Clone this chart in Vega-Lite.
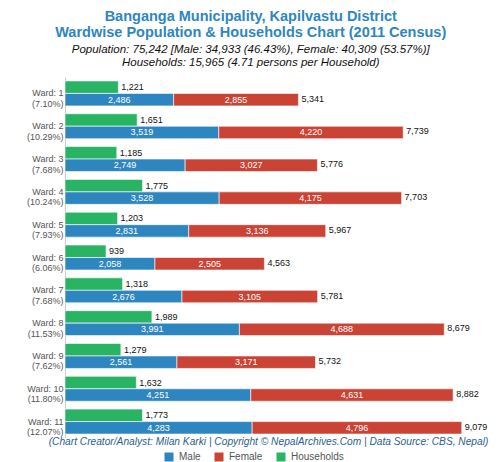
{
  "$schema": "https://vega.github.io/schema/vega-lite/v6.json",
  "width": 430,
  "height": 361,
  "autosize": {"type": "pad"},
  "padding": {"left": 26, "top": 9, "right": 5, "bottom": 0},
  "background": "white",
  "config": {"font": "Liberation Sans", "view": {"stroke": null}},
  "title": {
    "text": ["Banganga Municipality, Kapilvastu District", "Wardwise Population & Households Chart (2011 Census)"],
    "subtitle": ["Population: 75,242 [Male: 34,933 (46.43%), Female: 40,309 (53.57%)]", "Households: 15,965 (4.71 persons per Household)"],
    "anchor": "middle",
    "frame": "bounds",
    "dx": -10,
    "fontSize": 14.5,
    "fontWeight": "bold",
    "color": "#2e86c1",
    "lineHeight": 16,
    "subtitleFontSize": 11.5,
    "subtitleFontStyle": "italic",
    "subtitleColor": "#111111",
    "subtitleLineHeight": 13,
    "subtitlePadding": 3,
    "offset": 8
  },
  "data": {
    "values": [
      {"ward": "Ward: 1\n(7.10%)", "row": "Households", "series": "Households", "value": 1221},
      {"ward": "Ward: 1\n(7.10%)", "row": "Population", "series": "Male", "value": 2486},
      {"ward": "Ward: 1\n(7.10%)", "row": "Population", "series": "Female", "value": 2855},
      {"ward": "Ward: 2\n(10.29%)", "row": "Households", "series": "Households", "value": 1651},
      {"ward": "Ward: 2\n(10.29%)", "row": "Population", "series": "Male", "value": 3519},
      {"ward": "Ward: 2\n(10.29%)", "row": "Population", "series": "Female", "value": 4220},
      {"ward": "Ward: 3\n(7.68%)", "row": "Households", "series": "Households", "value": 1185},
      {"ward": "Ward: 3\n(7.68%)", "row": "Population", "series": "Male", "value": 2749},
      {"ward": "Ward: 3\n(7.68%)", "row": "Population", "series": "Female", "value": 3027},
      {"ward": "Ward: 4\n(10.24%)", "row": "Households", "series": "Households", "value": 1775},
      {"ward": "Ward: 4\n(10.24%)", "row": "Population", "series": "Male", "value": 3528},
      {"ward": "Ward: 4\n(10.24%)", "row": "Population", "series": "Female", "value": 4175},
      {"ward": "Ward: 5\n(7.93%)", "row": "Households", "series": "Households", "value": 1203},
      {"ward": "Ward: 5\n(7.93%)", "row": "Population", "series": "Male", "value": 2831},
      {"ward": "Ward: 5\n(7.93%)", "row": "Population", "series": "Female", "value": 3136},
      {"ward": "Ward: 6\n(6.06%)", "row": "Households", "series": "Households", "value": 939},
      {"ward": "Ward: 6\n(6.06%)", "row": "Population", "series": "Male", "value": 2058},
      {"ward": "Ward: 6\n(6.06%)", "row": "Population", "series": "Female", "value": 2505},
      {"ward": "Ward: 7\n(7.68%)", "row": "Households", "series": "Households", "value": 1318},
      {"ward": "Ward: 7\n(7.68%)", "row": "Population", "series": "Male", "value": 2676},
      {"ward": "Ward: 7\n(7.68%)", "row": "Population", "series": "Female", "value": 3105},
      {"ward": "Ward: 8\n(11.53%)", "row": "Households", "series": "Households", "value": 1989},
      {"ward": "Ward: 8\n(11.53%)", "row": "Population", "series": "Male", "value": 3991},
      {"ward": "Ward: 8\n(11.53%)", "row": "Population", "series": "Female", "value": 4688},
      {"ward": "Ward: 9\n(7.62%)", "row": "Households", "series": "Households", "value": 1279},
      {"ward": "Ward: 9\n(7.62%)", "row": "Population", "series": "Male", "value": 2561},
      {"ward": "Ward: 9\n(7.62%)", "row": "Population", "series": "Female", "value": 3171},
      {"ward": "Ward: 10\n(11.80%)", "row": "Households", "series": "Households", "value": 1632},
      {"ward": "Ward: 10\n(11.80%)", "row": "Population", "series": "Male", "value": 4251},
      {"ward": "Ward: 10\n(11.80%)", "row": "Population", "series": "Female", "value": 4631},
      {"ward": "Ward: 11\n(12.07%)", "row": "Households", "series": "Households", "value": 1773},
      {"ward": "Ward: 11\n(12.07%)", "row": "Population", "series": "Male", "value": 4283},
      {"ward": "Ward: 11\n(12.07%)", "row": "Population", "series": "Female", "value": 4796}
    ]
  },
  "encoding": {
    "y": {
      "field": "ward",
      "type": "nominal",
      "sort": null,
      "scale": {"paddingInner": 0.24, "paddingOuter": 0.12},
      "axis": {
        "title": null,
        "ticks": false,
        "labelExpr": "split(datum.label, '\\n')",
        "domainColor": "#cccccc",
        "labelColor": "#555555",
        "labelFontSize": 9,
        "labelPadding": 2,
        "labelLineHeight": 10.5,
        "labelBaseline": "middle"
      }
    },
    "yOffset": {
      "field": "row",
      "type": "nominal",
      "sort": ["Households", "Population"],
      "scale": {"paddingInner": 0, "paddingOuter": 0}
    }
  },
  "layer": [
    {
      "transform": [{"filter": "datum.row == 'Households'"}],
      "mark": {"type": "bar", "stroke": "#ffffff", "strokeOpacity": 0.6, "strokeWidth": 1},
      "encoding": {
        "x": {
          "field": "value", "type": "quantitative",
          "scale": {"domain": [0, 9840], "nice": false, "zero": true},
          "axis": {"labels": false, "ticks": false, "domain": false, "grid": false,
            "title": "(Chart Creator/Analyst: Milan Karki | Copyright © NepalArchives.Com | Data Source: CBS, Nepal)",
            "titleFontStyle": "italic", "titleFontWeight": "normal", "titleColor": "#2a5f8f", "titleFontSize": 10.2, "titlePadding": -1.5, "titleX": 203, "titleAlign": "center"}
        },
        "color": {
          "field": "series", "type": "nominal",
          "scale": {"domain": ["Male", "Female", "Households"], "range": ["#2e86c1", "#cb4335", "#28b463"]},
          "legend": {"orient": "none", "legendX": 99, "legendY": 375, "direction": "horizontal", "title": null, "symbolType": "square", "symbolSize": 81, "symbolStrokeWidth": 0, "labelFontSize": 10, "labelColor": "#555555", "labelOffset": 5, "columnPadding": 13, "padding": 0}
        }
      }
    },
    {
      "transform": [{"filter": "datum.row == 'Population'"}],
      "mark": {"type": "bar", "stroke": "#ffffff", "strokeOpacity": 0.6, "strokeWidth": 1},
      "encoding": {
        "x": {
          "field": "value", "type": "quantitative", "stack": "zero",
          "scale": {"domain": [0, 9840], "nice": false, "zero": true},
          "axis": {"labels": false, "ticks": false, "domain": false, "grid": false,
            "title": "(Chart Creator/Analyst: Milan Karki | Copyright © NepalArchives.Com | Data Source: CBS, Nepal)",
            "titleFontStyle": "italic", "titleFontWeight": "normal", "titleColor": "#2a5f8f", "titleFontSize": 10.2, "titlePadding": -1.5, "titleX": 203, "titleAlign": "center"}
        },
        "color": {"field": "series", "type": "nominal"},
        "order": {"field": "series", "sort": "descending"}
      }
    },
    {
      "transform": [{"filter": "datum.row == 'Households'"}],
      "mark": {"type": "text", "align": "left", "baseline": "middle", "dx": 3, "fontSize": 9, "color": "#111111"},
      "encoding": {
        "x": {"field": "value", "type": "quantitative"},
        "text": {"field": "value", "type": "quantitative", "format": ","}
      }
    },
    {
      "transform": [{"filter": "datum.row == 'Population'"}],
      "mark": {"type": "text", "align": "center", "baseline": "middle", "fontSize": 9, "color": "#ffffff"},
      "encoding": {
        "x": {"field": "value", "type": "quantitative", "stack": "zero", "bandPosition": 0.5},
        "detail": {"field": "series"},
        "order": {"field": "series", "sort": "descending"},
        "text": {"field": "value", "type": "quantitative", "format": ","}
      }
    },
    {
      "transform": [
        {"filter": "datum.row == 'Population'"},
        {"aggregate": [{"op": "sum", "field": "value", "as": "total"}], "groupby": ["ward", "row"]}
      ],
      "mark": {"type": "text", "align": "left", "baseline": "middle", "dx": 3, "dy": -1, "fontSize": 9, "color": "#111111"},
      "encoding": {
        "x": {"field": "total", "type": "quantitative"},
        "text": {"field": "total", "type": "quantitative", "format": ","}
      }
    }
  ]
}
